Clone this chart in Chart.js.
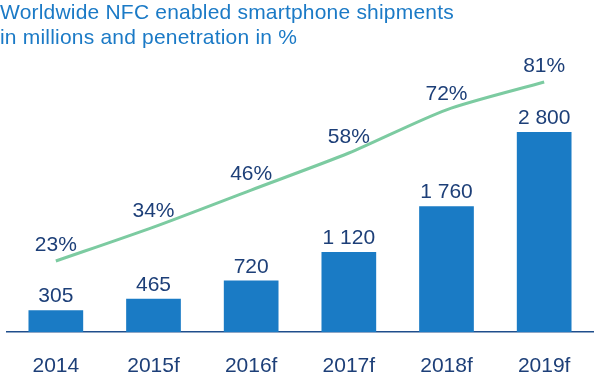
<!DOCTYPE html>
<html>
<head>
<meta charset="utf-8">
<script src="https://cdn.jsdelivr.net/npm/chart.js@4"></script>
<style>
  html, body { margin: 0; padding: 0; background: #ffffff; }
  #wrap { position: relative; width: 600px; height: 379px; }
  #title { position: absolute; left: 0; top: -1px; font-family: "Liberation Sans", Arial, sans-serif; font-size: 21px; letter-spacing: 0.2px; line-height: 25px; color: #1b7ac6; white-space: nowrap; }
  canvas { position: absolute; left: 0; top: 0; }
</style>
</head>
<body>
<div id="wrap">
  <canvas id="c" width="600" height="379"></canvas>
  <div id="title">Worldwide NFC enabled smartphone shipments<br>in millions and penetration in %</div>
</div>
<script>
const categories = ["2014", "2015f", "2016f", "2017f", "2018f", "2019f"];
const shipments = [305, 465, 720, 1120, 1760, 2800];
const penetration = [23, 34, 46, 58, 72, 81];

const NAVY = "#1d3f78";
const FONT = "Liberation Sans, Arial, sans-serif";

function fmt(v) { return String(v).replace(/\B(?=(\d{3})+(?!\d))/g, " "); }

const labelPlugin = {
  id: "valueLabels",
  afterDatasetsDraw(chart) {
    const ctx = chart.ctx;
    ctx.save();
    ctx.font = "21px " + FONT;
    ctx.fillStyle = NAVY;
    ctx.textAlign = "center";
    ctx.textBaseline = "alphabetic";
    chart.getDatasetMeta(0).data.forEach((el, i) => {
      ctx.fillText(fmt(shipments[i]), el.x, el.y - 8);
    });
    chart.getDatasetMeta(1).data.forEach((el, i) => {
      ctx.fillText(penetration[i] + "%", el.x, el.y - 10);
    });
    ctx.restore();
  }
};

new Chart(document.getElementById("c"), {
  data: {
    labels: categories,
    datasets: [
      {
        type: "bar",
        data: shipments,
        backgroundColor: "#1a7bc5",
        borderWidth: 0,
        categoryPercentage: 1.0,
        barPercentage: 0.56,
        yAxisID: "y",
        order: 2
      },
      {
        type: "line",
        data: penetration,
        borderColor: "#7ccba1",
        borderWidth: 3,
        pointRadius: 0,
        tension: 0.25,
        fill: false,
        yAxisID: "y1",
        order: 1
      }
    ]
  },
  options: {
    responsive: false,
    animation: false,
    layout: { padding: { left: 7, right: 7, top: 23.4, bottom: 0 } },
    plugins: { legend: { display: false }, tooltip: { enabled: false }, title: { display: false } },
    scales: {
      x: {
        grid: { display: false, drawTicks: false },
        border: { display: true, color: "#1f4e8c", width: 1.5 },
        ticks: { color: NAVY, font: { family: FONT, size: 21 }, padding: 22 },
        afterFit(scale) { scale.height = 47; }
      },
      y: { display: false, min: 0, max: 4320 },
      y1: { display: false, min: 0, max: 100 }
    }
  },
  plugins: [labelPlugin]
});
</script>
</body>
</html>
